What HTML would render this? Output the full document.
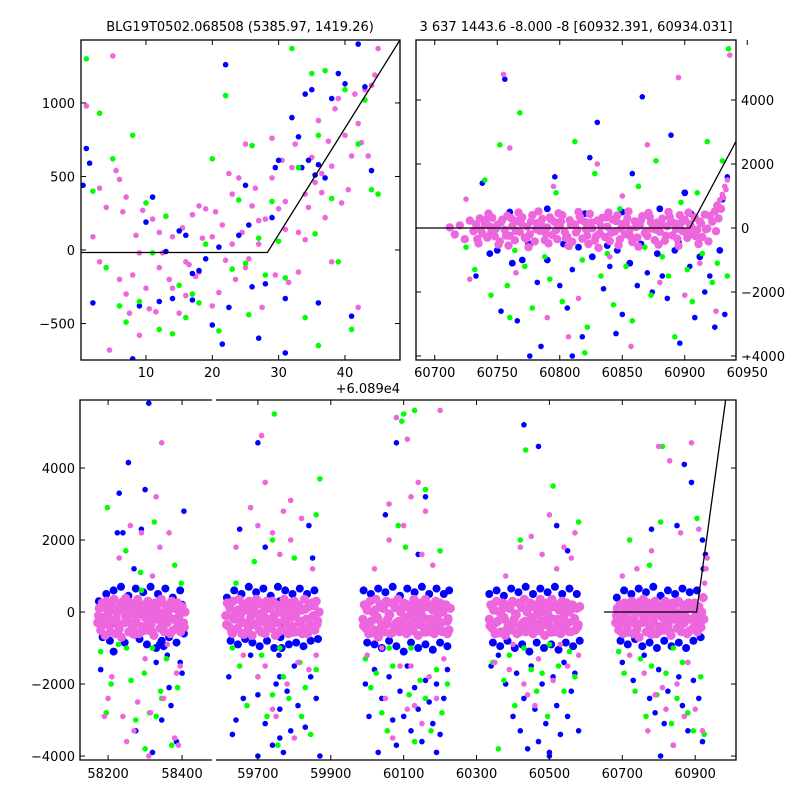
<!DOCTYPE html>
<html><head><meta charset="utf-8"><style>
body{margin:0;background:#fff;}
svg{display:block;font-family:"DejaVu Sans","Liberation Sans",sans-serif;font-size:13px;}
</style></head><body>
<svg id="chart" width="800" height="800" viewBox="0 0 800 800" xmlns="http://www.w3.org/2000/svg">
<rect width="800" height="800" fill="#fff"/>
<defs>
<clipPath id="c1"><rect x="81" y="40" width="319" height="320"/></clipPath>
<clipPath id="c2"><rect x="416" y="40" width="320" height="320"/></clipPath>
<clipPath id="c3a"><rect x="80" y="400" width="132" height="360"/></clipPath>
<clipPath id="c3b"><rect x="216" y="400" width="520" height="360"/></clipPath>
</defs>
<text x="240" y="31" text-anchor="middle">BLG19T0502.068508 (5385.97, 1419.26)</text>
<text x="576" y="31" text-anchor="middle">3 637 1443.6 -8.000 -8 [60932.391, 60934.031]</text>
<g id="g1" clip-path="url(#c1)"></g>
<g id="g2" clip-path="url(#c2)"></g>
<g id="g3a" clip-path="url(#c3a)"></g>
<g id="g3b" clip-path="url(#c3b)"></g>
<g id="axes"></g>
</svg>
<script>
// ---------- data ----------
// top-left panel (x offset +60890)
const tlPink=[1,980,2,90,3,-80,4,290,4.5,-680,5,1320,5.5,540,6,480,6.5,260,7,-300,7.5,-430,8,-170,8.5,100,9,-20,9.5,270,10,-260,10.5,-400,11,210,11.5,-420,12,120,12.5,-20,13,230,13.5,-200,14,90,15,-430,15.5,150,16,-310,16.5,-100,17,240,17.5,-180,18,-150,18.5,80,19,280,20,-380,20.5,260,21,-290,21.5,170,22,-70,22.5,520,23,380,23.5,-200,24,490,24.5,120,25,720,25.5,-60,26,300,26.5,420,27,200,27.5,-390,28,210,29,490,29.5,-170,30,280,30.5,610,31,330,31.5,-220,32,560,32.5,720,33,-150,34,380,34.5,290,35,630,35.5,460,36,880,36.5,390,37,220,37.5,740,38,570,38.5,960,39,1030,39.5,320,40,780,40.5,410,41,640,41.5,1060,42,860,42.5,730,43,1090,43.5,640,44,1120,44.5,1190,45,1370,27,40,31,140,25,-120,23,40,20,90,33,120,18,300,16,-80,14,-260,12,-120,7,360,3,420,6,-200,9,-580,29,760,38,-80,42,-390,34,70,36.5,520];
const tlBlue=[0.5,440,1,690,1.5,590,2,-360,10,190,11,360,12,-350,13,-10,14,-330,15,130,16,100,17,-340,18,-140,19,-60,21,20,22,1260,24,100,25,440,25.5,170,26,-250,27,-600,28,-230,29,220,29.5,560,30,610,31,-330,32,900,33,770,33.5,560,34,1060,34.5,610,35,1090,35.5,510,36,580,37,490,38,1030,39,1200,40,1130,41,-450,42,1400,43,1110,44,540,22.5,-390,21.5,-640,20,-510,9,-380,8,-740,17,-160,31,-700,36,-360];
const tlGreen=[1,1300,2,400,3,930,4,-120,5,620,6,-380,7,-490,8,780,9,-350,10,320,11,-20,12,-540,13,230,14,-570,15,-240,16,-460,17,-300,19,40,20,620,21,-550,22,1050,23,-130,24,340,25,-90,26,710,27,80,28,-170,29,330,30,60,31,-190,32,1370,33,560,34,-460,35,1200,36,780,37,1220,38,350,39,-80,40,1090,41,-540,42,720,43,1020,44,410,45,380,36,-650,35.5,110,25.5,-440,18,-360];
const tlLineX=[0,28.3,48.3];
const tlLineY=[-17,-17,1428];

// top-right panel (season 5)
const trPink=[60712,20,60716,-200,60720,80,60724,-350,60728,230,60731,-100,60734,-350,60736,300,60738,-170,60740,140,60742,-300,60744,50,60746,320,60748,-260,60750,100,60752,-420,60754,260,60756,-60,60758,380,60760,-240,60762,60,60764,-380,60766,220,60768,-120,60770,330,60772,-300,60774,40,60776,-200,60778,400,60780,-420,60782,150,60784,-90,60786,280,60788,-380,60790,20,60792,330,60794,-220,60796,180,60798,-350,60800,70,60802,400,60804,-120,60806,-270,60808,240,60810,-430,60812,110,60814,-60,60816,360,60818,-330,60820,190,60822,-240,60824,440,60826,-10,60828,-390,60830,230,60832,-170,60834,320,60836,-280,60838,40,60840,-410,60842,270,60844,-110,60846,390,60848,-360,60850,130,60852,-200,60854,300,60856,-50,60858,-440,60860,210,60862,-300,60864,80,60866,370,60868,-160,60870,-250,60872,340,60874,-20,60876,-380,60878,170,60880,-120,60882,290,60884,-400,60886,60,60888,350,60890,-230,60892,140,60894,-330,60896,400,60898,-90,60900,250,60902,-310,60904,120,60906,-200,60908,330,60910,-60,60912,200,60914,-280,60916,420,60918,-20,60920,380,60922,200,60924,520,60926,700,60928,880,60930,1050,60932,1300,60934,1500,60929,600,60931,950,60933,1200,60927,300,60925,-100,
60733,120,60737,-60,60741,260,60745,-150,60749,-20,60753,180,60757,-240,60761,310,60765,-90,60769,150,60773,-330,60777,210,60781,-30,60785,130,60789,-180,60793,270,60797,-70,60801,200,60805,-310,60809,90,60813,-140,60817,250,60821,-40,60825,170,60829,-260,60833,60,60837,330,60841,-150,60845,220,60849,-20,60853,150,60857,-280,60861,30,60865,240,60869,-100,60873,180,60877,-50,60881,120,60885,-240,60889,200,60893,-30,60897,160,60901,-150,60905,40,60909,-260,60913,150,60917,-40,
60735,-480,60743,450,60751,-520,60759,-550,60767,480,60775,-600,60783,520,60791,-480,60799,460,60807,-560,60815,500,60823,-500,60831,-620,60839,480,60847,-540,60855,520,60863,-580,60871,470,60879,-520,60887,500,60895,-560,60903,480,60911,-500,60919,-420,
60755,4800,60760,2500,60795,1300,60830,2000,60870,2600,60895,4700,60765,-1400,60790,-2800,60815,-2200,60840,-900,60880,-1700,60900,-2100,60912,-1100,60728,-1600,60807,-3400,60857,-3700,60725,900,60850,1000,60925,-2600,60936,5400];
const trBlue=[60733,-1500,60738,1400,60744,-800,60750,-700,60753,-2600,60756,4650,60762,-1100,60766,-2900,60770,-1000,60776,-500,60782,-1700,60785,-3700,60790,-1000,60796,1600,60800,-1800,60806,-2500,60810,-1300,60815,-600,60818,-3400,60824,2200,60826,-900,60830,3300,60835,-1900,60840,-1200,60846,-700,60850,-2700,60856,-1100,60858,1700,60862,-1800,60866,4100,60870,-1400,60874,-2000,60878,-800,60882,-1500,60886,-2200,60889,2900,60892,-700,60896,-3600,60900,1100,60904,-1200,60908,-2800,60912,-900,60916,-2000,60920,-1500,60924,-3100,60928,-700,60930,900,60932,-2700,60934,1600,60776,-4000,60810,-4000,60845,-3300,60760,500,60790,600,60820,450,60850,500,60880,600,60905,450,60775,-500,60803,-500,60838,-550,60865,-500,60895,-450];
const trGreen=[60725,-600,60732,-1300,60740,1500,60745,-2100,60752,2600,60758,-1800,60764,-700,60768,3600,60772,-1200,60778,-2500,60783,500,60788,-900,60792,-1600,60797,1100,60802,-2300,60808,-600,60812,2700,60818,-1000,60822,-3100,60828,1700,60833,-1500,60838,-800,60843,-2400,60848,600,60853,-1200,60858,-2900,60863,1300,60868,-600,60873,-2100,60877,2100,60882,-900,60887,-1500,60892,-3400,60897,800,60902,-1300,60906,-2300,60910,1100,60914,-800,60918,2700,60922,-1700,60926,-1100,60930,2100,60934,-1500,60935,5600,60760,-2800,60820,-3900];
const trLineX=[60685,60904,60945];
const trLineY=[0,0,3000];

// bottom panel season arrays
const bPink=[
58172,-300,58176,100,58180,-500,58184,250,58188,-150,58192,-650,58196,300,58200,-50,58204,-400,58208,150,58212,-250,58216,350,58220,-600,58224,0,58228,-350,58232,200,58236,-700,58240,50,58244,-300,58248,380,58252,-150,58256,-550,58260,250,58264,-50,58268,-450,58272,150,58276,-250,58280,350,58284,-600,58288,0,58292,-400,58296,200,58300,-150,58304,-500,58308,300,58312,-50,58316,-350,58320,150,58324,-650,58328,250,58332,-200,58336,0,58340,-450,58344,350,58348,-100,58352,-550,58356,200,58360,-300,58364,50,58368,-600,58372,300,58376,-200,58380,100,58384,-450,58388,250,58392,-100,58396,-550,58400,150,58404,-300,58408,0,
58174,-100,58182,-380,58190,120,58198,-250,58206,-560,58214,60,58222,-180,58230,-480,58238,280,58246,-90,58254,120,58262,-320,58270,-620,58278,-100,58286,190,58294,-520,58302,60,58310,-260,58318,-540,58326,-80,58334,200,58342,-220,58350,-380,58358,80,58366,-160,58374,-520,58382,180,58390,-300,58398,20,58406,-420,
58190,-2900,58230,1500,58260,2400,58300,-1300,58330,3200,58345,4700,58380,-3500,58210,-1800,58280,-2500,58320,1000,58360,-900,58395,-1500,58270,-3300,58340,1800,58290,2200,58240,-2900,58315,-2800,58385,-1700,58250,-3600,58350,-2400,58200,-2400,58365,2200,58310,-4000,58390,-3700,
59612,-100,59616,250,59620,-400,59624,100,59628,-550,59632,300,59636,-200,59640,0,59644,-450,59648,350,59652,-100,59656,-600,59660,200,59664,-300,59668,50,59672,-500,59676,300,59680,-150,59684,-650,59688,150,59692,-350,59696,350,59700,-50,59704,-500,59708,250,59712,-250,59716,0,59720,-600,59724,300,59728,-200,59732,100,59736,-450,59740,300,59744,-100,59748,-650,59752,200,59756,-300,59764,0,59768,-500,59772,350,59776,-250,59780,100,59784,-600,59788,250,59792,-150,59796,-400,59800,300,59804,-50,59808,-550,59812,200,59816,-300,59820,50,59824,-450,59828,350,59832,-200,59836,-600,59840,150,59844,-350,59848,250,59852,-100,59856,-500,59860,300,59864,-250,59868,0,
59614,-350,59622,150,59630,-150,59638,-480,59646,60,59654,-300,59662,-620,59670,250,59678,-380,59686,-60,59694,190,59702,-280,59710,-560,59718,100,59726,-360,59734,230,59742,-320,59750,-40,59758,-550,59766,180,59774,-130,59782,-380,59790,70,59798,-560,59806,160,59814,-250,59822,-600,59830,80,59838,-200,59846,-470,59854,180,59862,-350,
59640,1800,59680,2900,59700,2400,59720,3600,59760,1600,59790,2000,59820,2600,59850,1200,59660,-1200,59700,-1800,59740,-2700,59780,-2000,59810,-1400,59840,-1600,59860,-1200,59630,-600,59750,-2900,59720,-1500,59800,-3500,59770,2800,59740,2200,59790,3100,59710,4900,
59988,-200,59992,200,59996,-450,60000,50,60004,-600,60008,300,60012,-250,60016,0,60020,-500,60024,350,60028,-150,60032,-650,60036,200,60040,-350,60044,100,60048,-550,60052,300,60056,-200,60060,-50,60064,-600,60068,250,60072,-400,60076,150,60080,-300,60084,350,60088,-550,60092,0,60096,-350,60100,250,60104,-150,60108,-600,60112,200,60116,-400,60120,50,60124,-500,60128,350,60132,-250,60136,0,60140,-650,60144,250,60148,-300,60152,100,60156,-450,60160,350,60164,-200,60168,-550,60172,200,60176,-350,60180,50,60184,-600,60188,300,60192,-150,60196,-450,60200,250,60204,-300,60208,0,60212,-550,60216,200,60220,-250,60224,-500,60228,100,
59990,-380,59998,120,60006,-300,60014,-580,60022,60,60030,-200,60038,-450,60046,180,60054,-330,60062,-80,60070,-560,60078,120,60086,-260,60094,-500,60102,150,60110,-300,60118,-70,60126,-520,60134,220,60142,-350,60150,-100,60158,-560,60166,150,60174,-200,60182,-430,60190,80,60198,-280,60206,-540,60214,120,60222,-180,
60000,-1200,60020,1200,60040,-1000,60060,2000,60080,5400,60100,2400,60110,4800,60120,3200,60140,3600,60150,1600,60160,2800,60180,1300,60200,5600,60050,-2400,60090,-1500,60130,-2600,60170,-1800,60210,-1300,60070,-3500,60150,-3100,60190,-2400,60030,-700,60120,-1500,60220,-600,60110,-2700,60060,3000,
60335,-200,60339,200,60343,-450,60347,50,60351,-600,60355,300,60359,-250,60363,0,60367,-550,60371,250,60375,-150,60379,-650,60383,200,60387,-350,60391,100,60395,-500,60399,300,60403,-200,60407,-50,60411,-600,60415,250,60419,-400,60423,150,60427,-300,60431,350,60435,-550,60439,0,60443,-350,60447,250,60451,-150,60455,-600,60459,200,60463,-400,60467,50,60471,-500,60475,350,60479,-250,60483,0,60487,-650,60491,250,60495,-300,60499,100,60503,-450,60507,350,60511,-200,60515,-550,60519,200,60523,-350,60527,50,60531,-600,60535,300,60539,-150,60543,-450,60547,250,60551,-300,60555,0,60559,-550,60563,200,60567,-250,60571,-500,60575,100,60579,-350,60583,150,
60337,-380,60345,120,60353,-300,60361,-580,60369,60,60377,-200,60385,-450,60393,180,60401,-330,60409,-80,60417,-560,60425,120,60433,-260,60441,-500,60449,150,60457,-300,60465,-70,60473,-520,60481,220,60489,-350,60497,-100,60505,-560,60513,150,60521,-200,60529,-430,60537,80,60545,-280,60553,-540,60561,120,60569,-180,60577,-420,
60380,1000,60420,1800,60450,2100,60480,1600,60500,2700,60520,1200,60540,1800,60560,1500,60350,-1400,60390,-1600,60430,-2000,60470,-1300,60510,-1900,60550,-1500,60580,-1200,60460,-2600,60400,-900,60530,-900,60570,2200,60440,-2300,
60682,-300,60686,100,60690,-500,60694,200,60698,-150,60702,-600,60706,250,60710,-50,60714,-400,60718,150,60722,-250,60726,300,60730,-600,60734,0,60738,-350,60742,200,60746,-700,60750,50,60754,-300,60758,350,60762,-150,60766,-550,60770,250,60774,-50,60778,-450,60782,150,60786,-250,60790,300,60794,-600,60798,0,60802,-400,60806,200,60810,-150,60814,-500,60818,300,60822,-50,60826,-350,60830,150,60834,-650,60838,250,60842,-200,60846,0,60850,-450,60854,300,60858,-100,60862,-550,60866,200,60870,-300,60874,50,60878,-600,60882,250,60886,-200,60890,100,60894,-450,60898,250,60902,-100,60906,-550,60910,150,60914,-300,60918,0,60922,400,60926,800,60930,1200,60933,1500,
60684,-100,60692,-380,60700,120,60708,-250,60716,-560,60724,60,60732,-180,60740,-480,60748,280,60756,-90,60764,120,60772,-320,60780,-620,60788,-100,60796,190,60804,-520,60812,60,60820,-260,60828,-540,60836,-80,60844,200,60852,-220,60860,-380,60868,80,60876,-160,60884,-520,60892,180,60900,-300,60908,20,60916,-420,60924,-200,
60700,1000,60740,1200,60780,1700,60800,4600,60830,4200,60860,2200,60890,4700,60910,2300,60720,-1200,60760,-1700,60790,-2300,60820,-2700,60850,-2000,60880,-1400,60900,-2700,60770,-3300,60840,-3700,60920,-3300,60810,-2100,60870,-2900];
const bBlue=[
58175,300,58185,-700,58195,500,58205,-800,58215,600,58225,-350,58235,700,58245,-850,58255,450,58265,-600,58275,650,58285,-750,58295,550,58305,-900,58315,700,58325,-650,58335,500,58345,-800,58355,650,58365,-700,58375,400,58385,-850,58395,600,58405,-600,58400,200,58330,-1000,58350,-950,58340,-900,
58180,-1600,58215,-1100,58240,2200,58255,4150,58290,2300,58300,3400,58310,5800,58320,-3900,58345,-3000,58365,-2100,58385,-3600,58400,-1700,58270,1200,58330,-1400,58360,-1200,58275,-3300,58225,2200,58230,3300,58370,-2600,58405,2800,58395,-1400,
59615,400,59625,-800,59635,600,59645,-900,59655,500,59665,-750,59675,700,59685,-850,59695,550,59705,-950,59715,650,59725,-800,59735,450,59745,-1000,59755,700,59760,300,59760,-300,59762,-700,59758,-1200,59765,-1000,59775,600,59785,-900,59795,500,59805,-850,59815,650,59825,-950,59835,500,59845,-800,59855,600,59865,-750,
59620,-1800,59640,-3000,59660,-2400,59680,-1200,59700,-2300,59720,-3100,59740,-3700,59750,-2000,59760,-2700,59760,-3500,59760,-1800,59770,-3900,59780,-2200,59790,-3300,59800,-1500,59810,-2600,59830,-3200,59845,-1800,59860,-2400,59870,-4000,59650,2300,59700,4700,59720,1800,59840,2400,59850,1500,59630,-3400,59700,-4000,
59990,600,60000,-850,60010,500,60020,-900,60030,650,60040,-1000,60050,550,60060,-800,60070,700,60080,-950,60090,450,60100,-1100,60110,650,60120,-850,60130,550,60140,-1000,60150,700,60160,-900,60170,500,60180,-1050,60190,650,60200,-850,60210,500,60220,-950,60225,600,
59995,-2000,60005,-2900,60020,-1600,60040,-2400,60060,-1800,60070,-3000,60080,-3700,60090,-2200,60100,-2900,60110,-1500,60120,-3300,60130,-2100,60140,-2700,60150,-3600,60160,-1900,60170,-2500,60180,-3100,60190,-2000,60200,-3400,60210,-2400,60220,-1600,60050,2700,60080,4700,60160,3200,60140,1600,60030,-3900,60190,-3900,
60335,500,60345,-850,60355,600,60365,-950,60375,450,60385,-800,60395,650,60405,-1000,60415,550,60425,-900,60435,700,60445,-1100,60455,500,60465,-850,60475,650,60485,-1000,60495,550,60505,-900,60515,700,60525,-1050,60535,500,60545,-850,60555,650,60565,-950,60575,500,60583,-800,
60340,-1500,60360,-1200,60380,-2000,60400,-2900,60410,-1700,60420,-3300,60430,-2400,60440,-3800,60450,-1500,60460,-2700,60470,-3600,60480,-2000,60490,-3100,60500,-4000,60510,-1800,60520,-2600,60530,-3400,60540,-1400,60550,-2900,60560,-2200,60570,-1700,60580,-3300,60430,5200,60470,4600,60520,2400,60550,1700,60500,-3900,
60685,400,60695,-800,60705,600,60715,-900,60725,500,60735,-750,60745,650,60755,-950,60765,550,60775,-850,60785,700,60795,-1000,60805,450,60815,-800,60825,600,60835,-950,60845,500,60855,-850,60865,650,60875,-1000,60885,550,60895,-800,60905,600,60915,-700,60922,1200,60928,1600,
60700,-1400,60730,-1900,60760,-1200,60775,-2400,60790,-2800,60800,-1600,60815,-3100,60825,-2200,60840,-3700,60855,-1800,60865,-2600,60880,-3300,60895,-1900,60910,-2400,60920,-3600,60780,2300,60850,2400,60870,4100,60890,3600,60920,2000,60805,-4000];
const bGreen=[
58180,-1100,58198,2900,58208,-2000,58228,-900,58248,1700,58262,-1900,58275,-3000,58288,1100,58298,-1700,58312,-2800,58325,2500,58342,-2200,58358,-1300,58372,-3700,58388,-2100,58398,800,58250,-1000,58320,-1000,58290,600,58230,-600,58195,-2800,58300,-3800,58380,1300,58330,-2900,58345,-2400,
59630,-1000,59650,-1500,59670,-2600,59690,1400,59710,-1200,59725,-2900,59740,2000,59745,5500,59755,-3700,59770,-1800,59785,-2400,59800,1500,59815,-1400,59830,-2100,59845,-3400,59860,-1600,59870,3700,59860,2700,59700,-1800,59640,800,59760,-1000,59740,-2300,59820,-2900,
59995,-1300,60010,-2100,60025,-1700,60040,-2800,60055,-3300,60070,-1500,60085,2400,60095,5300,60100,5500,60105,1800,60115,-2300,60130,-3600,60145,-1900,60160,-2400,60175,-3300,60190,-1600,60205,-2800,60220,-2000,60160,3400,60120,-1000,60060,-1000,60200,1700,60130,5600,
60345,-1400,60360,-3800,60375,-1900,60390,-1200,60405,-2600,60420,2000,60435,4500,60450,-1600,60465,-2200,60480,-1700,60495,-2900,60510,3500,60525,-1500,60540,-2200,60555,-1100,60570,-1800,60580,2500,60430,-1000,60500,-900,
60690,-1100,60705,-1700,60720,2000,60735,-2200,60750,-1300,60765,-2900,60780,-1500,60795,-2300,60805,2500,60810,4600,60820,-1700,60835,-3100,60850,-2400,60865,-1400,60880,-2800,60895,-3300,60905,2600,60915,-1800,60925,-3400,60775,1300,60840,-1000];
const bLineX=[60650,60904,61000];
const bLineY=[0,0,7100];

// tick labels
const tlXTicks=[10,20,30,40];
const tlYTicks=[-500,0,500,1000];
const trXTicks=[60700,60750,60800,60850,60900,60950];
const trYTicks=[-4000,-2000,0,2000,4000];
const bXTicksA=[58200,58400];
const bXTicksB=[59700,59900,60100,60300,60500,60700,60900];
const bYTicks=[-4000,-2000,0,2000,4000];

// ---------- drawing ----------
const NS="http://www.w3.org/2000/svg";
function lin(d0,d1,p0,p1){return v=>p0+(v-d0)*(p1-p0)/(d1-d0);}
const P1={x:lin(0.2,48.3,81,400),y:lin(-748,1428,360,40)};
const P2={x:lin(60685,60941,416,736),y:lin(-4125,5875,360,40)};
const P3a={x:lin(58124,58481,80,212),y:lin(-4110,5890,760,400)};
const P3b={x:lin(59585,61012,216,736),y:lin(-4110,5890,760,400)};
const COL={blue:"#0000ff",green:"#00ff00",pink:"#ee66dd"};
// r: base radius; core: [limit, radius] -> points in the dense core drawn larger (blob density)
function pts(g,arr,col,ax,r,core,name){
  for(let i=0;i<arr.length;i+=2){
    const c=document.createElementNS(NS,"circle");
    const v=arr[i+1];
    const rr=(core&&Math.abs(v)<=core[0])?core[1]:r;
    c.setAttribute("cx",ax.x(arr[i]).toFixed(1));
    c.setAttribute("cy",ax.y(v).toFixed(1));
    c.setAttribute("r",rr);
    c.setAttribute("fill",col);
    
    
    g.appendChild(c);
  }
}
function line(g,xs,ys,ax,name){
  const p=document.createElementNS(NS,"polyline");
  p.setAttribute("points",xs.map((x,i)=>ax.x(x).toFixed(1)+","+ax.y(ys[i]).toFixed(1)).join(" "));
  p.setAttribute("fill","none");p.setAttribute("stroke","#000");p.setAttribute("stroke-width","1.3");
  
  
  g.appendChild(p);
}
const g1=document.getElementById("g1"),g2=document.getElementById("g2"),g3a=document.getElementById("g3a"),g3b=document.getElementById("g3b");
pts(g1,tlPink,COL.pink,P1,2.8,null,"pink-point");pts(g1,tlBlue,COL.blue,P1,2.8,null,"blue-point");pts(g1,tlGreen,COL.green,P1,2.8,null,"green-point");
line(g1,tlLineX,tlLineY,P1,"model-line");
pts(g2,trBlue,COL.blue,P2,2.8,[1100,3.4],"blue-point");pts(g2,trGreen,COL.green,P2,2.8,null,"green-point");pts(g2,trPink,COL.pink,P2,2.8,[700,4.2],"pink-point");
line(g2,trLineX,trLineY,P2,"model-line");
[[g3a,P3a],[g3b,P3b]].forEach(([g,ax])=>{
  pts(g,bBlue,COL.blue,ax,2.8,[1150,4],"blue-point");pts(g,bGreen,COL.green,ax,2.8,null,"green-point");pts(g,bPink,COL.pink,ax,2.8,[720,4.6],"pink-point");
});
line(g3b,bLineX,bLineY,P3b,"model-line");

const A=document.getElementById("axes");
function el(tag,attrs,name,text){
  const e=document.createElementNS(NS,tag);
  for(const k in attrs)e.setAttribute(k,attrs[k]);
  
  
  if(text!==undefined)e.textContent=text;
  A.appendChild(e);return e;
}
const ST={stroke:"#000","stroke-width":1.3,fill:"none"};
el("rect",Object.assign({x:81,y:40,width:319,height:320},ST),"left-frame");
el("rect",Object.assign({x:416,y:40,width:320,height:320},ST),"right-frame");
el("path",Object.assign({d:"M212,400 H80 V760 H212 M216,400 H736 V760 H216"},ST),"bottom-frame");
function xt(ax,v,y0,y1,lab,ly,name){
  const x=ax.x(v);
  el("line",{x1:x,y1:y0,x2:x,y2:y0-5,stroke:"#000"},name+"-tick");
  el("line",{x1:x,y1:y1,x2:x,y2:y1+5,stroke:"#000"},name+"-tick");
  el("text",{x:x,y:ly,"text-anchor":"middle"},name+"-label",lab);
}
function yt(ax,v,x0,x1,lab,lx,anchor,name){
  const y=ax.y(v);
  el("line",{x1:x0,y1:y,x2:x0+5,y2:y,stroke:"#000"},name+"-tick");
  el("line",{x1:x1,y1:y,x2:x1-5,y2:y,stroke:"#000"},name+"-tick");
  el("text",{x:lx,y:y+5,"text-anchor":anchor},name+"-label",lab);
}
const fmt=v=>String(v).replace("-","\u2212");
tlXTicks.forEach(v=>xt(P1,v,360,40,String(v),377,"tl-x"));
tlYTicks.forEach(v=>yt(P1,v,81,400,fmt(v),75,"end","tl-y"));
el("text",{x:400,y:393,"text-anchor":"end"},"x-offset-label","+6.089e4");
trXTicks.forEach(v=>xt(P2,v,360,40,String(v),377,"tr-x"));
trYTicks.forEach(v=>yt(P2,v,416,736,fmt(v),741,"start","tr-y"));
bXTicksA.forEach(v=>xt(P3a,v,760,400,String(v),778,"bottom-x"));
bXTicksB.forEach(v=>xt(P3b,v,760,400,String(v),778,"bottom-x"));
bYTicks.forEach(v=>yt(P3a,v,80,736,fmt(v),75,"end","bottom-y"));
</script>
</body></html>
